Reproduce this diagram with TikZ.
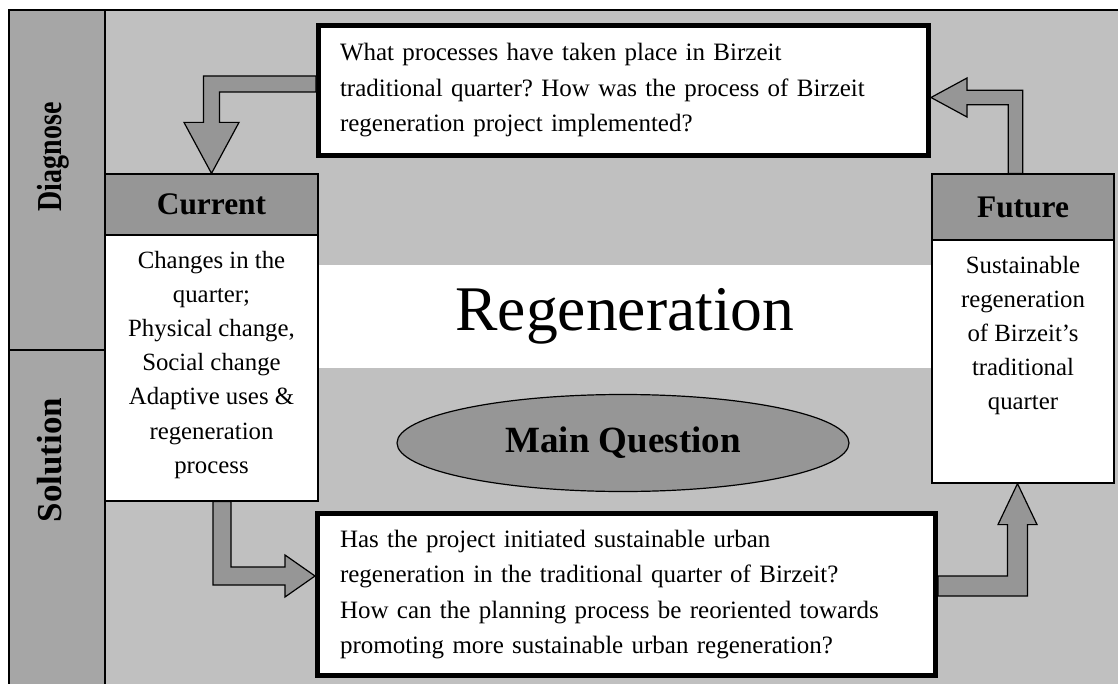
\documentclass[tikz,border=0pt]{standalone}
\usepackage{fontspec}
\setmainfont{Liberation Serif}
\usetikzlibrary{positioning, shapes.geometric, calc}
\definecolor{bggray}{HTML}{C0C0C0}
\definecolor{stripgray}{HTML}{A6A6A6}
\definecolor{boxgray}{HTML}{969696}
\frenchspacing

\begin{document}
\begin{tikzpicture}[
    x=0.5pt, y=-0.5pt,
    rule/.style={line width=0.6pt},
    question/.style={draw, line width=2.5pt, fill=white, align=left,
        font=\fontsize{12.5}{17.75}\selectfont},
    head/.style={draw, rule, fill=boxgray, inner sep=0,
        font=\fontsize{15.7}{18}\selectfont\bfseries},
    body/.style={draw, rule, fill=white, inner sep=0},
    bodytext/.style={align=center, inner sep=0, outer sep=0,
        font=\fontsize{12.4}{17.1}\selectfont},
    side/.style={rotate=90, inner sep=0, font=\fontsize{17.5}{20}\selectfont\bfseries},
    blockarrow/.style={draw, rule, fill=boxgray, line join=miter},
    shaftw/.code={\def\arrshaft{#1}},
    headw/.code={\def\arrhead{#1}},
    headl/.code={\def\arrlen{#1}},
    elbowhv/.style={to path={let \p1=(\tikztostart), \p2=(\tikztotarget),
        \n1={sign(\x2-\x1)}, \n2={sign(\y2-\y1)} in
        (\x1,{\y1-(\n2)*\arrshaft}) -- ({\x2+(\n1)*\arrshaft},{\y1-(\n2)*\arrshaft})
        -- ({\x2+(\n1)*\arrshaft},{\y2-(\n2)*\arrlen}) -- ({\x2+(\n1)*\arrhead},{\y2-(\n2)*\arrlen})
        -- (\x2,\y2) -- ({\x2-(\n1)*\arrhead},{\y2-(\n2)*\arrlen})
        -- ({\x2-(\n1)*\arrshaft},{\y2-(\n2)*\arrlen}) -- ({\x2-(\n1)*\arrshaft},{\y1+(\n2)*\arrshaft})
        -- (\x1,{\y1+(\n2)*\arrshaft}) -- cycle}},
    elbowvh/.style={to path={let \p1=(\tikztostart), \p2=(\tikztotarget),
        \n1={sign(\x2-\x1)}, \n2={sign(\y2-\y1)} in
        ({\x1-(\n1)*\arrshaft},\y1) -- ({\x1-(\n1)*\arrshaft},{\y2+(\n2)*\arrshaft})
        -- ({\x2-(\n1)*\arrlen},{\y2+(\n2)*\arrshaft}) -- ({\x2-(\n1)*\arrlen},{\y2+(\n2)*\arrhead})
        -- (\x2,\y2) -- ({\x2-(\n1)*\arrlen},{\y2-(\n2)*\arrhead})
        -- ({\x2-(\n1)*\arrlen},{\y2-(\n2)*\arrshaft}) -- ({\x1+(\n1)*\arrshaft},{\y2-(\n2)*\arrshaft})
        -- ({\x1+(\n1)*\arrshaft},\y1) -- cycle}}
]
\useasboundingbox (0,0) rectangle (1118,684);

\fill[bggray] (9,10) rectangle (1130,700);
\draw[rule] (1130,10) -- (9,10) -- (9,700);
\filldraw[rule, fill=stripgray] (9,10) rectangle (105,350);
\filldraw[rule, fill=stripgray] (9,350) rectangle (105,700);
\node[side] (diagnose) at (53,157) {\scalebox{0.8}[1]{Diagnose}};
\node[side] (solution) at (50,460) {Solution};

\node[fill=white, inner sep=0, minimum width=307pt, minimum height=51.5pt,
      font=\fontsize{31.8}{36}\selectfont] (regen) at (625,316.5) {Regeneration};
\node[ellipse, draw, rule, fill=boxgray, inner sep=0, minimum width=226pt, minimum height=48.5pt,
      font=\fontsize{18.5}{20}\selectfont\bfseries] (mainq) at (623,443) {Main Question};

\node[head, minimum width=106.5pt, minimum height=30.5pt] (curhead) at (211.5,204.5) {Current};
\node[body, minimum width=106.5pt, minimum height=133pt] (curbody) at (211.5,368) {};
\node[bodytext, below=7.6pt of curhead.south] (curtext)
    {Changes in the\\quarter;\\Physical change,\\Social change\\Adaptive uses \&\\regeneration\\process};

\node[head, minimum width=91pt, minimum height=33pt] (futhead) at (1023,207) {Future};
\node[body, minimum width=91pt, minimum height=121.5pt] (futbody) at (1023,361.5) {};
\node[bodytext, below=7.6pt of futhead.south] (futtext)
    {Sustainable\\regeneration\\of Birzeit’s\\traditional\\quarter};

\node[question, inner xsep=10.75pt, text width=283.5pt, minimum height=65pt] (topq) at (623.5,90.5)
    {What processes have taken place in Birzeit\\traditional quarter? How was the process of Birzeit\\regeneration project implemented?};
\node[question, inner xsep=11.25pt, text width=286.5pt, minimum height=81pt] (botq) at (626.5,594.5)
    {Has the project initiated sustainable urban\\regeneration in the traditional quarter of Birzeit?\\How can the planning process be reoriented towards\\promoting more sustainable urban regeneration?};

\draw[blockarrow, elbowhv, shaftw=4pt, headw=13.75pt, headl=25.5pt]
    ([yshift=3.25pt]topq.west) to (curhead.north);
\draw[blockarrow, elbowvh, shaftw=4.5pt, headw=10.5pt, headl=15pt]
    ([xshift=5.25pt]curbody.south) to ([yshift=9.25pt]botq.west);
\draw[blockarrow, elbowhv, shaftw=5pt, headw=9.75pt, headl=20.5pt]
    ([yshift=4.25pt]botq.east) to ([xshift=-2.75pt]futbody.south);
\draw[blockarrow, elbowvh, shaftw=3.6pt, headw=9.75pt, headl=18pt]
    ([xshift=-3.75pt]futhead.north) to ([yshift=-3.5pt]topq.east);
\end{tikzpicture}
\end{document}
